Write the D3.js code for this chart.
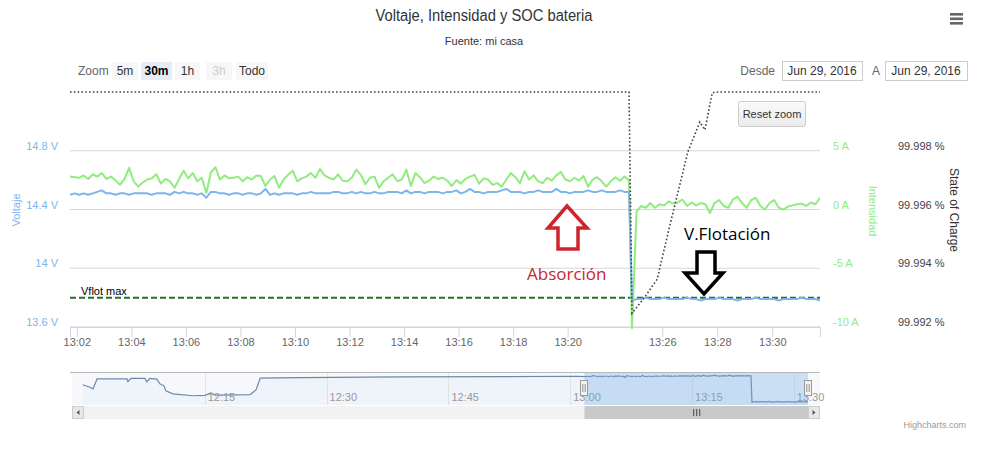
<!DOCTYPE html>
<html><head><meta charset="utf-8">
<script src="https://cdn.jsdelivr.net/npm/d3@7"></script>
<style>
body{margin:0;background:#fff;}
svg{display:block;font-family:"Liberation Sans",Arial,sans-serif;}
.narrow{font-family:"Liberation Sans Narrow","Liberation Sans",sans-serif;}
</style></head><body>
<svg id="chart" width="1000" height="455"></svg>
<script>
// ---------------- data ----------------
const day = "2016-06-29";
const preStart = "13:01:45";     // first sample shown before the data gap
const postStart = "13:24:54";    // first sample after the data gap
const sampleSeconds = 10;

const preCurrent = [2.8,2.75,2.7,2.9,2.6,3.0,2.8,3.1,2.6,2.8,2.5,2.1,2.6,3.55,2.4,1.95,2.3,2.55,2.65,3.0,2.2,2.6,2.4,1.85,2.6,3.3,2.65,3.1,2.4,2.7,1.4,3.15,3.6,2.55,2.9,2.65,2.7,2.8,2.4,2.75,2.55,2.9,
  2.85,2.0,2.55,2.85,1.85,2.55,2.95,3.3,2.4,2.65,2.8,3.1,2.7,3.45,2.9,2.7,2.55,3.0,2.45,2.4,2.7,3.4,2.95,2.15,2.7,2.8,1.85,2.4,2.7,3.0,2.4,2.55,3.4,2.0,3.1,2.75,2.25,2.45,2.8,2.6,2.7,
  2.45,2.0,2.5,2.2,2.6,2.8,2.95,2.2,2.65,2.55,2.1,2.25,1.95,2.55,3.1,2.75,2.25,3.25,2.55,2.9,2.4,2.25,2.7,2.45,2.9,3.2,2.55,2.4,2.7,2.45,2.85,1.95,2.55,2.75,2.4,1.95,2.4,2.75,2.45,2.8,2.5];
const preVoltage = [14.50,14.51,14.50,14.51,14.50,14.51,14.52,14.53,14.51,14.51,14.50,14.51,14.51,14.50,14.51,14.51,14.51,14.51,14.50,14.51,14.51,14.51,14.50,14.52,14.51,14.52,14.51,14.51,14.50,14.51,14.48,14.52,14.52,14.51,14.51,14.50,14.51,14.51,14.50,14.51,14.51,14.50,
  14.51,14.54,14.50,14.51,14.50,14.51,14.51,14.51,14.50,14.51,14.51,14.52,14.51,14.51,14.51,14.51,14.52,14.52,14.51,14.51,14.52,14.51,14.52,14.51,14.51,14.52,14.51,14.51,14.52,14.52,14.52,14.51,14.53,14.51,14.52,14.52,14.51,14.52,14.52,14.52,14.51,
  14.52,14.52,14.53,14.51,14.52,14.54,14.52,14.52,14.51,14.52,14.52,14.52,14.53,14.54,14.52,14.52,14.52,14.51,14.52,14.52,14.53,14.52,14.52,14.52,14.54,14.52,14.52,14.51,14.52,14.52,14.52,14.53,14.52,14.52,14.53,14.52,14.52,14.52,14.53,14.52,14.52];
const postCurrent = [-10.1,-0.15,0.3,0.15,0.55,0.15,0.45,0.35,0.7,0.5,0.6,0.85,0.3,0.6,0.35,0.55,0.45,-0.3,0.55,0.8,0.3,0.15,0.85,1.1,0.55,0.15,0.8,1.0,0.3,0.0,0.55,0.8,0.15,0.0,0.25,0.35,0.45,0.5,0.3,0.6,0.45,1.0];
const postVoltage = [13.78,13.79,13.79,13.80,13.79,13.79,13.79,13.80,13.79,13.79,13.79,13.79,13.80,13.79,13.79,13.78,13.79,13.79,13.79,13.80,13.79,13.79,13.79,13.78,13.79,13.79,13.79,13.80,13.79,13.79,13.79,13.79,13.78,13.79,13.79,13.79,13.79,13.80,13.79,13.79,13.79,13.78];

const socTimes = ["13:01:45","13:22:15","13:24:54","13:25:22","13:25:49","13:26:17","13:26:56","13:27:22","13:27:33","13:27:49","13:27:57","13:31:44"];
const socValues = [100,100,99.99247,99.99302,99.99363,99.99549,99.99797,99.99898,99.99871,99.99997,100,100];

const historyTimes = ["12:00:00","12:00:53","12:01:15","12:01:45","12:05:26","12:05:33","12:05:55","12:07:39","12:07:53","12:08:15","12:09:07","12:09:29","12:09:59","12:10:13","12:11:05","12:13:33","12:15:02","12:15:46","12:16:16","12:20:36","12:21:20","12:21:50","12:26:43","12:39:00","12:51:16","13:01:00"];
const historyVoltage = [14.27,14.20,14.155,14.435,14.44,14.36,14.45,14.45,14.35,14.45,14.43,14.30,14.24,14.10,14.015,13.96,13.97,14.04,13.98,13.99,14.13,14.46,14.47,14.49,14.50,14.51];

const voltTicks = [13.6,14,14.4,14.8];
const ampTicks = [-10,-5,0,5];
const socTicks = [99.992,99.994,99.996,99.998];
const xTickLabels = ["13:02","13:04","13:06","13:08","13:10","13:12","13:14","13:16","13:18","13:20","13:26","13:28","13:30"];
const navTickLabels = ["12:15","12:30","12:45","13:00","13:15","13:30"];
const navStart = "11:58:40";
const vflotMax = 13.8;
const rangeButtons = ["5m","30m","1h","3h","Todo"];
const dateLabel = "Jun 29, 2016";

// ---------------- helpers ----------------
const parse = d3.timeParse("%Y-%m-%d %H:%M:%S");
const T = s => parse(day + " " + (s.length === 5 ? s + ":00" : s));
const preTimes = preCurrent.map((_, i) => d3.timeSecond.offset(T(preStart), i * sampleSeconds));
const postTimes = postCurrent.map((_, i) => d3.timeSecond.offset(T(postStart), i * sampleSeconds));
const voltData = preTimes.map((t, i) => ({t, v: preVoltage[i]})).concat(postTimes.map((t, i) => ({t, v: postVoltage[i]})));
const ampData = preTimes.map((t, i) => ({t, v: preCurrent[i]})).concat(postTimes.map((t, i) => ({t, v: postCurrent[i]})));
const socData = socTimes.map((s, i) => ({t: T(s), v: socValues[i]}));
const navData = historyTimes.map((s, i) => ({t: T(s), v: historyVoltage[i]})).concat(voltData);

const svg = d3.select("#chart");
const P = {l:70, r:820, t:92, b:327};

// ordinal-like time axis: the gap between samples is collapsed
const x = d3.scaleTime()
  .domain([preTimes[0], preTimes[preTimes.length-1], postTimes[0], postTimes[postTimes.length-1]])
  .range([P.l, 629, 632, P.r]);
const yV = d3.scaleLinear().domain([13.6, 15.2]).range([P.b, P.t]);
const yA = d3.scaleLinear().domain([-10, 10]).range([P.b, P.t]);
const yS = d3.scaleLinear().domain([99.992, 100]).range([P.b, P.t]);

// ---------------- header ----------------
svg.append("text").attr("class","narrow").attr("x",484).attr("y",21).attr("text-anchor","middle")
  .attr("font-size",16).attr("fill","#333").attr("textLength",217).attr("lengthAdjust","spacingAndGlyphs")
  .text("Voltaje, Intensidad y SOC bateria");
svg.append("text").attr("class","narrow").attr("x",484).attr("y",45).attr("text-anchor","middle")
  .attr("font-size",11).attr("fill","#333").text("Fuente: mi casa");
[13,17.5,22].forEach(yy => svg.append("rect").attr("x",950).attr("y",yy).attr("width",13).attr("height",2.6).attr("fill","#666"));

// range selector
svg.append("text").attr("class","narrow").attr("x",78).attr("y",75).attr("font-size",12).attr("fill","#666").text("Zoom");
const btnX = [112,141,175,206,236], btnW = [26,31,25,26,32];
rangeButtons.forEach((b, i) => {
  const sel = b === "30m", dis = b === "3h";
  svg.append("rect").attr("x",btnX[i]).attr("y",62).attr("width",btnW[i]).attr("height",18)
    .attr("fill", sel ? "#e6ebf5" : "#f7f7f7");
  svg.append("text").attr("class","narrow").attr("x",btnX[i]+btnW[i]/2).attr("y",75).attr("text-anchor","middle")
    .attr("font-size",12).attr("font-weight", sel ? "bold" : "normal")
    .attr("fill", sel ? "#000" : dis ? "#cccccc" : "#333").text(b);
});
svg.append("text").attr("class","narrow").attr("x",775).attr("y",75).attr("text-anchor","end").attr("font-size",12).attr("fill","#666").text("Desde");
svg.append("text").attr("class","narrow").attr("x",876).attr("y",75).attr("text-anchor","middle").attr("font-size",12).attr("fill","#666").text("A");
[[782,80],[885,82]].forEach(([bx,bw]) => {
  svg.append("rect").attr("x",bx+0.5).attr("y",61.5).attr("width",bw).attr("height",19).attr("fill","#fff").attr("stroke","#ccc");
  svg.append("text").attr("class","narrow").attr("x",bx+bw/2).attr("y",75).attr("text-anchor","middle").attr("font-size",12).attr("fill","#333").text(dateLabel);
});

// ---------------- grid & axes ----------------
const grid = svg.append("g");
voltTicks.forEach(v => grid.append("line").attr("x1",P.l).attr("x2",P.r).attr("y1",yV(v)).attr("y2",yV(v))
  .attr("stroke","#d6d6d6").attr("stroke-width",1.2));

const gL = svg.append("g").attr("transform",`translate(${P.l},0)`)
  .call(d3.axisLeft(yV).tickValues(voltTicks).tickSize(0).tickPadding(12).tickFormat(d => d3.format("~g")(d) + " V"));
gL.select(".domain").remove();
gL.selectAll("text").attr("fill","#7cb5ec").attr("font-size",11).attr("dy","-0.12em").attr("font-family","Liberation Sans, Arial, sans-serif");

const gA = svg.append("g").attr("transform",`translate(${P.r},0)`)
  .call(d3.axisRight(yA).tickValues(ampTicks).tickSize(0).tickPadding(13).tickFormat(d => String(d) + " A"));
gA.select(".domain").remove();
gA.selectAll("text").attr("fill","#90ed7d").attr("font-size",11).attr("dy","-0.12em").attr("font-family","Liberation Sans, Arial, sans-serif");

const gS = svg.append("g").attr("transform",`translate(${P.r},0)`)
  .call(d3.axisRight(yS).tickValues(socTicks).tickSize(0).tickPadding(78).tickFormat(d => d3.format(".3f")(d) + " %"));
gS.select(".domain").remove();
gS.selectAll("text").attr("fill","#434348").attr("font-size",11).attr("dy","-0.12em").attr("font-family","Liberation Sans, Arial, sans-serif");

svg.append("text").attr("transform","translate(20,210) rotate(-90)").attr("text-anchor","middle")
  .attr("font-size",11).attr("fill","#7cb5ec").text("Voltaje");
svg.append("text").attr("transform","translate(869,211) rotate(90)").attr("text-anchor","middle")
  .attr("font-size",11).attr("fill","#90ed7d").text("Intensidad");
svg.append("text").attr("transform","translate(950,210) rotate(90)").attr("text-anchor","middle")
  .attr("font-size",12).attr("fill","#333").text("State of Charge");

const gX = svg.append("g").attr("transform",`translate(0,${P.b})`)
  .call(d3.axisBottom(x).tickValues(xTickLabels.map(T)).tickSize(10).tickPadding(1).tickFormat(d3.timeFormat("%H:%M")));
gX.select(".domain").attr("stroke","#ccd6eb");
gX.selectAll(".tick line").attr("stroke","#ccd6eb");
gX.selectAll("text").attr("fill","#666").attr("font-size",11);

// ---------------- series ----------------
const defs = svg.append("defs");
defs.append("clipPath").attr("id","plotclip").append("rect").attr("x",P.l).attr("y",P.t-3).attr("width",P.r-P.l).attr("height",P.b-P.t+6);
const series = svg.append("g").attr("clip-path","url(#plotclip)");

// Vflot max plot line
series.append("line").attr("x1",P.l).attr("x2",P.r).attr("y1",yV(vflotMax)).attr("y2",yV(vflotMax))
  .attr("stroke","#2b6b2b").attr("stroke-width",2).attr("stroke-dasharray","6,3");

series.append("path").datum(ampData).attr("fill","none").attr("stroke","#90ed7d").attr("stroke-width",2)
  .attr("stroke-linejoin","round").attr("d", d3.line().x(d => x(d.t)).y(d => yA(d.v)));
series.append("path").datum(voltData).attr("fill","none").attr("stroke","#7cb5ec").attr("stroke-width",2)
  .attr("stroke-linejoin","round").attr("d", d3.line().x(d => x(d.t)).y(d => yV(d.v)));
series.append("path").datum(socData).attr("fill","none").attr("stroke","#434348").attr("stroke-width",1.6)
  .attr("stroke-dasharray","1.6,2.2").attr("d", d3.line().x(d => x(d.t)).y(d => yS(d.v)));

svg.append("text").attr("x",81).attr("y",295).attr("font-size",11).attr("fill","#000").text("Vflot max");

// reset zoom button
const grad = defs.append("linearGradient").attr("id","btngrad").attr("x1",0).attr("x2",0).attr("y1",0).attr("y2",1);
grad.append("stop").attr("offset","0").attr("stop-color","#fafafa");
grad.append("stop").attr("offset","1").attr("stop-color","#ebebeb");
svg.append("rect").attr("x",738.5).attr("y",101.5).attr("width",67).attr("height",25).attr("rx",2)
  .attr("fill","url(#btngrad)").attr("stroke","#cccccc");
svg.append("text").attr("x",772).attr("y",118).attr("text-anchor","middle").attr("font-size",11).attr("fill","#333").text("Reset zoom");

// ---------------- annotations ----------------
svg.append("path").attr("d","M567,206 L587,228 L578,228 L578,249 L558,249 L558,228 L548,228 Z")
  .attr("fill","#fff").attr("stroke","#d0232d").attr("stroke-width",3.5).attr("stroke-linejoin","miter");
svg.append("text").attr("x",527).attr("y",280).attr("font-family","Open Sans, Noto Sans, sans-serif").attr("font-size",17)
  .attr("fill","#c8262f").text("Absorción");
svg.append("path").attr("d","M697,252 L715,252 L715,273 L723,273 L704,294 L685,273 L697,273 Z")
  .attr("fill","#fff").attr("stroke","#000").attr("stroke-width",3.5).attr("stroke-linejoin","miter");
svg.append("text").attr("x",684).attr("y",240).attr("font-family","Open Sans, Noto Sans, sans-serif").attr("font-size",17)
  .attr("fill","#000").text("V.Flotación");

// ---------------- navigator ----------------
const N = {l:72, r:820, t:372, b:405};
const xN = d3.scaleTime()
  .domain([T(navStart), preTimes[preTimes.length-1], postTimes[0], postTimes[postTimes.length-1]])
  .range([N.l, 751, 752, 808]);
const yN = d3.scaleLinear().domain([13.70, 14.63]).range([N.b, N.t]);
const nav = svg.append("g");
nav.append("rect").attr("x",N.l).attr("y",N.t).attr("width",N.r-N.l).attr("height",N.b-N.t).attr("fill","#f6f8fb");
navTickLabels.forEach(s => {
  const xx = Math.round(xN(T(s))) + 0.5;
  nav.append("line").attr("x1",xx).attr("x2",xx).attr("y1",N.t).attr("y2",N.b).attr("stroke","#e6e6e6");
});
nav.append("path").datum(navData).attr("fill","#7cb5ec").attr("fill-opacity",0.05)
  .attr("d", d3.area().x(d => xN(d.t)).y0(N.b).y1(d => yN(d.v)));
nav.append("path").datum(navData).attr("fill","none").attr("stroke","#6d89aa").attr("stroke-width",1.2)
  .attr("d", d3.line().x(d => xN(d.t)).y(d => yN(d.v)));
navTickLabels.forEach(s => {
  nav.append("text").attr("x",xN(T(s))+3).attr("y",401).attr("font-size",11).attr("fill","#999").text(s);
});
const m0 = xN(preTimes[0]), m1 = xN(postTimes[postTimes.length-1]);
nav.append("rect").attr("x",m0).attr("y",N.t).attr("width",m1-m0).attr("height",N.b-N.t).attr("fill","rgba(110,170,230,0.32)");
nav.append("line").attr("x1",N.l-2).attr("x2",N.r).attr("y1",N.t+0.5).attr("y2",N.t+0.5).attr("stroke","#b8b8b8");
[m0, m1].forEach(hx => {
  nav.append("rect").attr("x",Math.round(hx)-3.5).attr("y",380.5).attr("width",7).attr("height",15).attr("fill","#f2f2f2").attr("stroke","#999");
  [-1,1].forEach(o => nav.append("line").attr("x1",Math.round(hx)+o*1.2).attr("x2",Math.round(hx)+o*1.2).attr("y1",384).attr("y2",392).attr("stroke","#777").attr("stroke-width",0.8));
});
// scrollbar
nav.append("rect").attr("x",N.l).attr("y",406).attr("width",N.r-N.l).attr("height",13).attr("fill","#f2f2f2");
nav.append("rect").attr("x",m0).attr("y",406).attr("width",m1-m0).attr("height",13).attr("fill","#c9c9c9");
[-3,0,3].forEach(o => nav.append("line").attr("x1",(m0+m1)/2+o+0.5).attr("x2",(m0+m1)/2+o+0.5).attr("y1",409).attr("y2",416).attr("stroke","#444").attr("stroke-width",1));
[[N.l,1],[N.r-12,-1]].forEach(([bx,dir]) => {
  nav.append("rect").attr("x",bx+0.5).attr("y",406.5).attr("width",11).attr("height",12).attr("fill","#e8e8e8").attr("stroke","#ccc");
  const cx = bx + 6;
  nav.append("path").attr("d", dir > 0 ? `M${cx+1.5},410 L${cx-1.5},412.5 L${cx+1.5},415 Z` : `M${cx-1.5},410 L${cx+1.5},412.5 L${cx-1.5},415 Z`).attr("fill","#555");
});

svg.append("text").attr("x",966).attr("y",428).attr("text-anchor","end").attr("font-size",9).attr("fill","#999").text("Highcharts.com");
</script>
</body></html>
